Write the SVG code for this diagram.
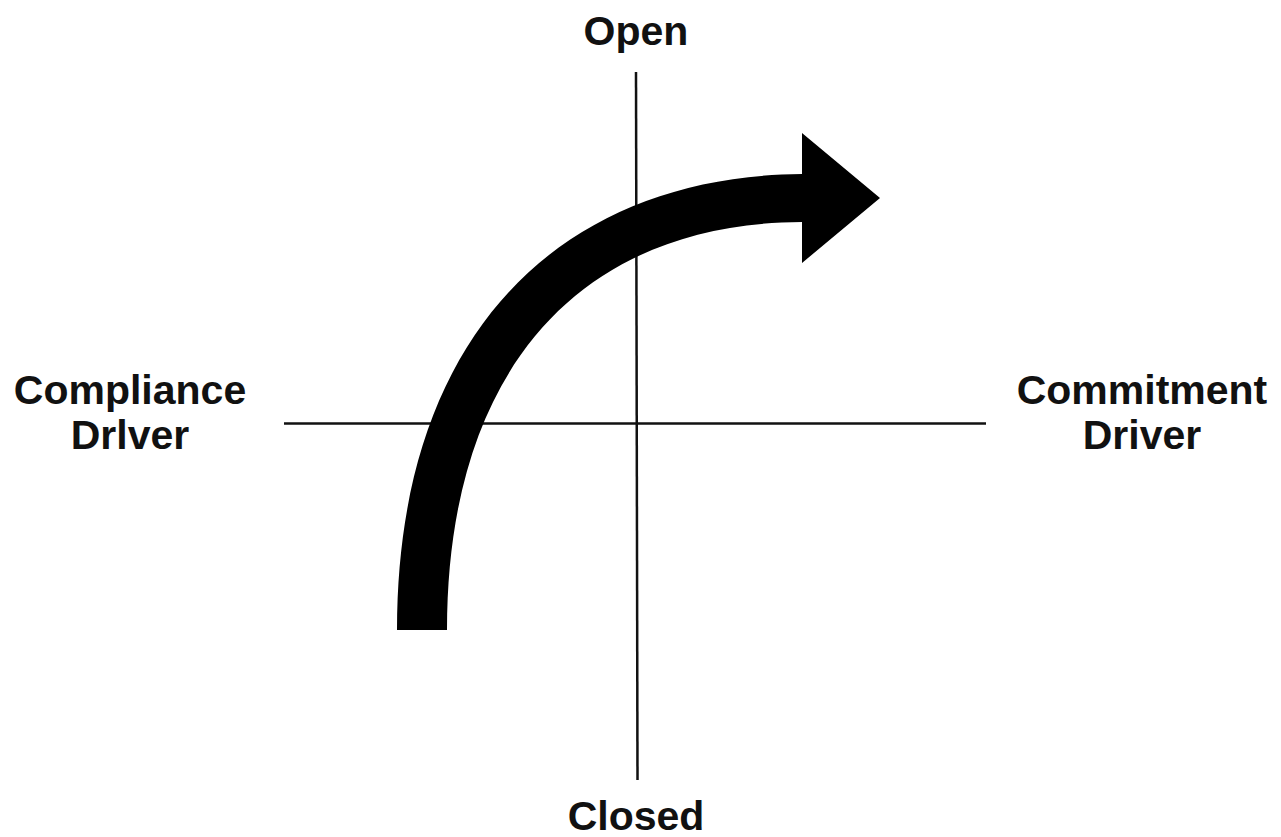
<svg xmlns="http://www.w3.org/2000/svg" width="1281" height="837" viewBox="0 0 1281 837">
<style>
.lbl{font-family:"Liberation Sans",Arial,sans-serif;font-weight:bold;font-size:41px;fill:#111;text-anchor:middle}
.axis{stroke:#111;stroke-width:2.5;fill:none}
</style>
<rect width="1281" height="837" fill="#fff"/>
<g id="axes">
<line class="axis" x1="636" y1="72" x2="637.5" y2="780"/>
<line class="axis" x1="284" y1="423.5" x2="986" y2="423.5"/>
</g>
<g id="arrow">
<path d="M397,630 C397,335 560,176 802,174 L802,133 L880,198 L802,263 L802,222 C580,223 447,370 447,630 Z" fill="#000"/>
</g>
<g id="open"><text class="lbl" x="636" y="45">Open</text></g>
<g id="closed"><text class="lbl" x="636" y="830">Closed</text></g>
<g id="compliance"><text class="lbl" x="130" y="404">Compliance</text><text class="lbl" x="130" y="449">Drlver</text></g>
<g id="commitment"><text class="lbl" x="1142" y="404">Commitment</text><text class="lbl" x="1142" y="449">Driver</text></g>
</svg>
